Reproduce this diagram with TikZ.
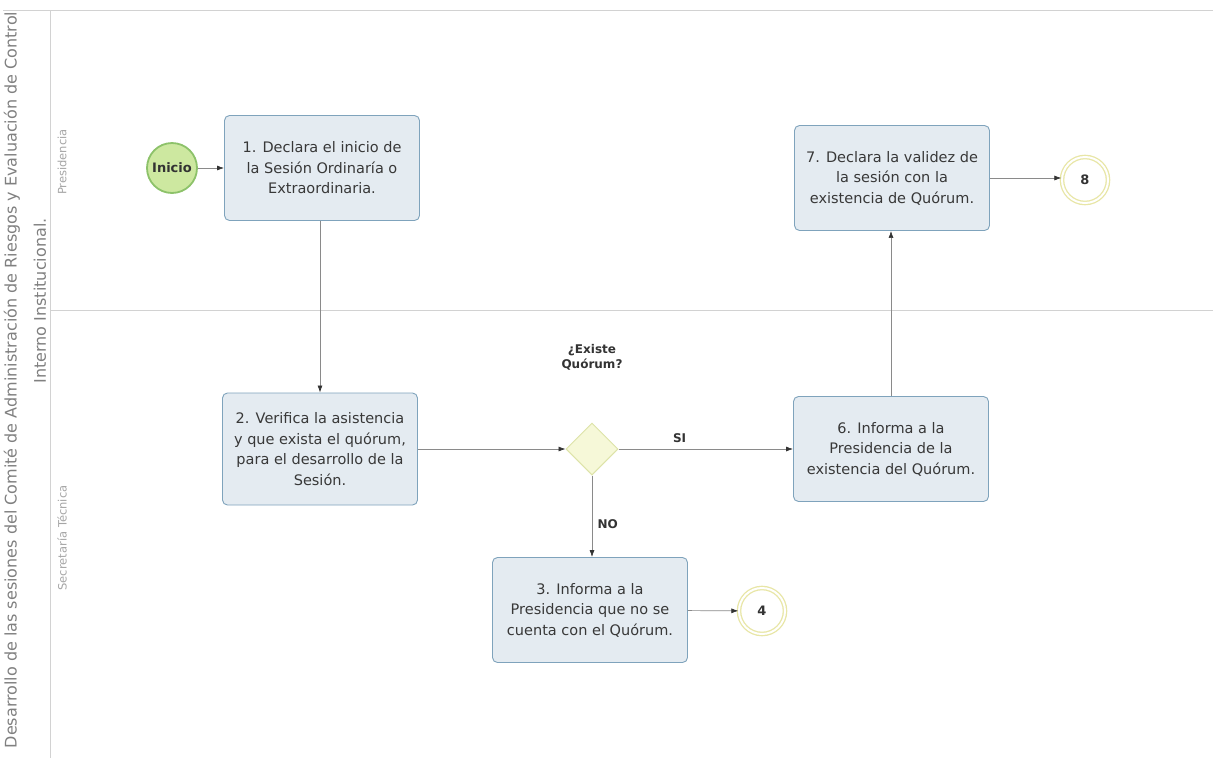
\documentclass[tikz,border=0pt]{standalone}
\usepackage{fontspec}
\setmainfont{DejaVu Sans}
\usetikzlibrary{shapes.geometric,arrows.meta}
\definecolor{taskfill}{HTML}{E4EBF1}
\definecolor{taskdraw}{HTML}{7FA3BC}
\definecolor{startfill}{HTML}{CDE8A0}
\definecolor{startdraw}{HTML}{8DC26A}
\definecolor{endring}{HTML}{E8E6A6}
\definecolor{gwfill}{HTML}{F6F8D8}
\definecolor{gwdraw}{HTML}{DDE3A8}
\definecolor{lanecol}{HTML}{D2D2D2}
\definecolor{flowcol}{HTML}{8A8A8A}
\tikzset{
  task/.style={draw=taskdraw, fill=taskfill, rounded corners=5pt, minimum width=195pt, minimum height=105pt, align=center, font=\fontsize{14.5}{20.5}\selectfont, text=black!78, line width=0.9pt},
  startev/.style={circle, draw=startdraw, fill=startfill, line width=1.8pt, minimum size=50pt, inner sep=0pt, font=\bfseries\fontsize{13}{15}\selectfont, text=black!80},
  endev/.style={circle, draw=endring, fill=white, line width=1.3pt, double=white, double distance=2pt, minimum size=46pt, inner sep=0pt, font=\bfseries\fontsize{13}{15}\selectfont, text=black!80},
  gw/.style={diamond, draw=gwdraw, fill=gwfill, line width=1pt, minimum width=52pt, minimum height=52pt, inner sep=0pt},
  flow/.style={draw=flowcol, line width=0.7pt, -{Latex[length=7pt,width=5pt,color=black!80]}},
  lbl/.style={font=\bfseries\fontsize{12}{15}\selectfont, text=black!80, align=center},
  lanetxt/.style={font=\fontsize{11.5}{13}\selectfont, text=black!35, rotate=90},
  pooltxt/.style={font=\fontsize{16}{19}\selectfont, text=black!50, rotate=90}
}
\begin{document}
\begin{tikzpicture}[x=1pt,y=-1pt]
\useasboundingbox (0,0) rectangle (1213,758);
\fill[white] (0,0) rectangle (1213,758);
% pool and lanes
\draw[lanecol, line width=0.8pt] (3,10) -- (1213,10);
\draw[lanecol, line width=0.8pt] (50,10) -- (50,758);
\draw[lanecol, line width=0.8pt] (50,310) -- (1213,310);
\node[pooltxt] (pt1) at (12,380) {Desarrollo de las sesiones del Comité de Administración de Riesgos y Evaluación de Control};
\node[pooltxt] (pt2) at (40,301) {Interno Institucional.};
\node[lanetxt] (l1) at (62,162) {Presidencia};
\node[lanetxt] (l2) at (62,538) {Secretaría Técnica};
% nodes
\node[startev] (ini) at (172,168) {Inicio};
\node[task] (t1) at (322,168) {1. Declara el inicio de\\la Sesión Ordinaría o\\Extraordinaria.};
\node[task] (t7) at (892,178) {7. Declara la validez de\\la sesión con la\\existencia de Quórum.};
\node[endev] (e8) at (1085,180) {8};
\node[task, minimum height=112pt] (t2) at (320,449) {2. Verifica la asistencia\\y que exista el quórum,\\para el desarrollo de la\\Sesión.};
\node[gw] (g) at (592,449) {};
\node[lbl] (q) at (592,357) {¿Existe\\Quórum?};
\node[task] (t6) at (891,449) {6. Informa a la\\Presidencia de la\\existencia del Quórum.};
\node[task] (t3) at (590,610) {3. Informa a la\\Presidencia que no se\\cuenta con el Quórum.};
\node[endev] (e4) at (762,611) {4};
% flows
\draw[flow] (ini) -- (t1);
\draw[flow] (t2.north |- t1.south) -- (t2.north);
\draw[flow] (t2) -- (g);
\draw[flow] (g) -- node[lbl, above, pos=0.35, yshift=3pt] (si) {SI} (t6);
\draw[flow] (g.south) -- node[lbl, right, pos=0.6, xshift=2pt] (no) {NO} (g.south |- t3.north);
\draw[flow] (t3) -- (e4);
\draw[flow] (t6.north) -- (t6.north |- t7.south);
\draw[flow] (t7.east) -- (t7.east -| e8.west);
\end{tikzpicture}
\end{document}
